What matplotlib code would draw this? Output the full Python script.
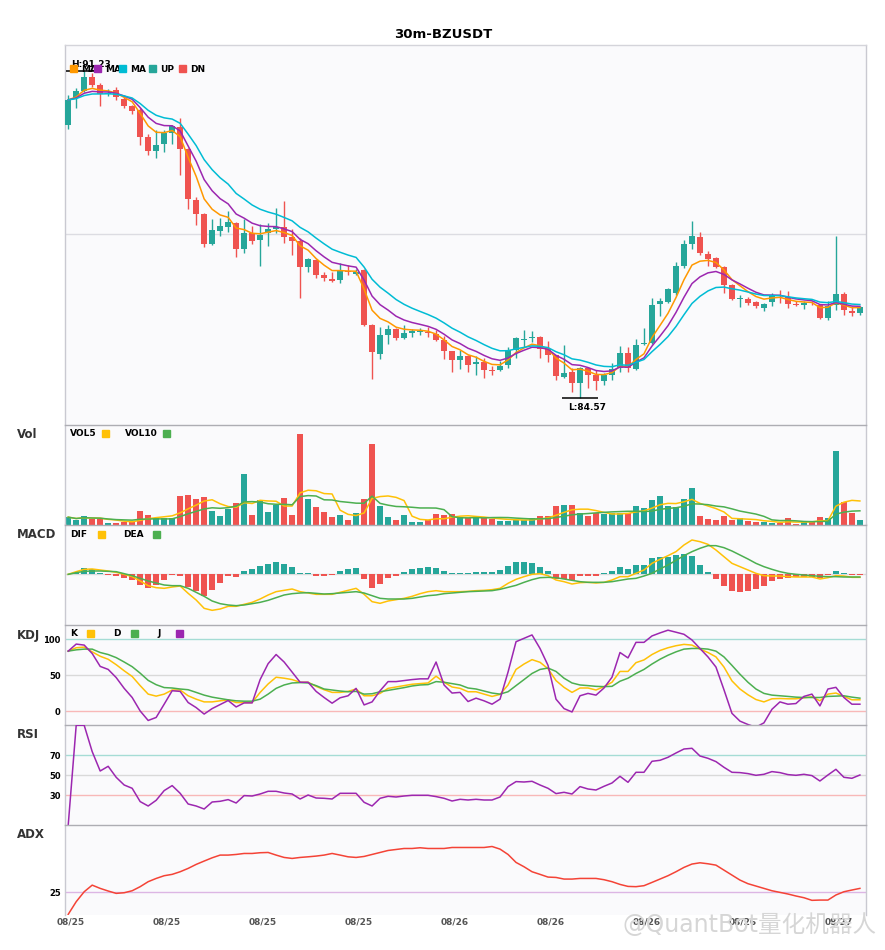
import numpy as np
import pandas as pd
import matplotlib
matplotlib.use("Agg")
import matplotlib.pyplot as plt
from matplotlib.patches import Rectangle

plt.rcParams['font.family'] = ['DejaVu Sans', 'Noto Sans CJK SC']
plt.rcParams['font.weight'] = 'bold'

# chart data
title = "30m-BZUSDT"
date_labels = ["08/25", "08/25", "08/25", "08/25", "08/26", "08/26", "08/26", "08/26", "08/27"]

opens = [90.13, 90.67, 90.83, 91.11, 90.94, 90.77, 90.84, 90.66, 90.52, 90.43,
         89.88, 89.60, 89.74, 89.96, 90.08, 89.64, 88.60, 88.31, 87.70, 87.97,
         88.05, 88.13, 87.59, 87.92, 87.79, 87.92, 88.01, 88.05, 87.85, 87.76,
         87.24, 87.38, 87.06, 86.99, 86.96, 87.15, 87.09, 87.17, 86.05, 85.46,
         85.85, 85.97, 85.78, 85.88, 85.90, 85.90, 85.86, 85.75, 85.51, 85.34,
         85.41, 85.25, 85.30, 85.14, 85.14, 85.24, 85.54, 85.74, 85.78, 85.81,
         85.56, 85.43, 84.99, 85.10, 84.86, 85.17, 85.02, 84.91, 85.03, 85.17,
         85.47, 85.16, 85.67, 85.69, 86.47, 86.52, 86.70, 87.25, 87.70, 87.85,
         87.50, 87.41, 87.24, 86.87, 86.57, 86.58, 86.51, 86.39, 86.51, 86.66,
         86.63, 86.48, 86.45, 86.50, 86.46, 86.19, 86.46, 86.68, 86.34, 86.30]
highs = [90.74, 90.88, 91.23, 91.19, 90.98, 90.86, 90.91, 90.71, 90.54, 90.47,
         89.94, 90.03, 90.03, 90.13, 90.28, 89.65, 88.65, 88.33, 88.21, 88.23,
         88.38, 88.15, 88.21, 88.07, 88.10, 88.12, 88.43, 88.57, 88.01, 87.82,
         87.42, 87.39, 87.13, 87.14, 87.31, 87.28, 87.19, 87.19, 86.07, 86.00,
         86.05, 85.98, 86.05, 85.97, 85.98, 86.00, 85.95, 85.83, 85.52, 85.54,
         85.43, 85.41, 85.37, 85.22, 85.32, 85.61, 85.81, 85.95, 85.93, 85.82,
         85.73, 85.44, 85.65, 85.18, 85.20, 85.20, 85.14, 85.07, 85.27, 85.62,
         85.61, 85.77, 85.98, 86.60, 86.60, 86.80, 87.33, 87.78, 88.17, 87.94,
         87.55, 87.44, 87.26, 86.88, 86.66, 86.63, 86.53, 86.49, 86.70, 86.77,
         86.75, 86.53, 86.54, 86.54, 86.47, 86.54, 87.87, 86.72, 86.43, 86.43]
lows = [90.05, 90.48, 90.81, 90.90, 90.52, 90.71, 90.64, 90.48, 90.35, 89.72,
        89.52, 89.46, 89.57, 89.74, 89.11, 88.42, 88.09, 87.63, 87.68, 87.87,
        87.95, 87.44, 87.51, 87.70, 87.26, 87.67, 87.92, 87.72, 87.48, 86.61,
        87.14, 87.00, 86.94, 86.92, 86.91, 87.07, 87.06, 86.03, 84.94, 85.36,
        85.67, 85.75, 85.77, 85.81, 85.85, 85.81, 85.73, 85.35, 85.10, 85.16,
        85.10, 85.02, 84.97, 85.02, 85.12, 85.18, 85.37, 85.61, 85.70, 85.37,
        85.30, 84.93, 84.97, 84.68, 84.57, 84.76, 84.73, 84.83, 84.93, 85.09,
        85.10, 85.14, 85.65, 85.66, 86.24, 86.49, 86.66, 87.21, 87.60, 87.47,
        87.26, 87.21, 86.70, 86.56, 86.41, 86.46, 86.39, 86.34, 86.43, 86.49,
        86.39, 86.43, 86.38, 86.46, 86.17, 86.15, 86.36, 86.26, 86.24, 86.26]
closes = [90.64, 90.82, 91.11, 90.95, 90.77, 90.79, 90.69, 90.52, 90.42, 89.89,
          89.60, 89.72, 89.96, 90.10, 89.64, 88.62, 88.31, 87.70, 87.99, 88.06,
          88.15, 87.59, 87.93, 87.77, 87.89, 88.01, 88.04, 87.85, 87.76, 87.24,
          87.40, 87.06, 87.00, 86.94, 87.16, 87.13, 87.14, 86.05, 85.49, 85.85,
          85.97, 85.79, 85.88, 85.92, 85.93, 85.88, 85.75, 85.51, 85.34, 85.41,
          85.24, 85.29, 85.14, 85.12, 85.22, 85.54, 85.79, 85.77, 85.81, 85.56,
          85.43, 85.00, 85.07, 84.86, 85.18, 85.02, 84.91, 85.03, 85.16, 85.47,
          85.17, 85.65, 85.69, 86.46, 86.53, 86.78, 87.25, 87.70, 87.87, 87.51,
          87.40, 87.24, 86.87, 86.58, 86.60, 86.49, 86.43, 86.47, 86.65, 86.64,
          86.48, 86.46, 86.49, 86.49, 86.19, 86.43, 86.68, 86.36, 86.30, 86.41]
volume = [22, 14, 25, 17, 17, 4, 4, 8, 7, 40,
          28, 20, 21, 21, 85, 88, 76, 82, 40, 25,
          47, 64, 151, 28, 73, 37, 60, 79, 28, 271,
          76, 52, 37, 22, 28, 13, 34, 76, 241, 55,
          22, 13, 28, 7, 7, 13, 31, 28, 31, 22,
          19, 21, 19, 17, 10, 10, 15, 15, 19, 25,
          25, 55, 58, 58, 34, 25, 34, 31, 34, 34,
          34, 55, 49, 73, 85, 55, 52, 76, 109, 25,
          16, 13, 25, 13, 19, 10, 7, 7, 4, 4,
          19, 2, 7, 7, 22, 19, 220, 67, 34, 13]

dif = [0, 0.032, 0.06, 0.064, 0.052, 0.04, 0.024, 0, -0.028, -0.08,
       -0.136, -0.16, -0.168, -0.152, -0.14, -0.228, -0.308, -0.408, -0.432, -0.416,
       -0.384, -0.384, -0.36, -0.336, -0.296, -0.248, -0.208, -0.192, -0.176, -0.208,
       -0.224, -0.24, -0.24, -0.24, -0.216, -0.192, -0.168, -0.24, -0.328, -0.348,
       -0.32, -0.304, -0.288, -0.264, -0.232, -0.208, -0.196, -0.208, -0.208, -0.208,
       -0.204, -0.196, -0.192, -0.184, -0.168, -0.108, -0.06, -0.028, 0, 0.008,
       -0.016, -0.068, -0.088, -0.116, -0.1, -0.096, -0.104, -0.096, -0.068, -0.028,
       -0.028, 0.012, 0.052, 0.132, 0.18, 0.224, 0.272, 0.352, 0.412, 0.392,
       0.36, 0.292, 0.212, 0.132, 0.092, 0.052, 0.012, -0.016, -0.02, -0.02,
       -0.028, -0.032, -0.032, -0.032, -0.056, -0.04, -0.016, -0.02, -0.036, -0.036]
dea = [0, 0.02, 0.036, 0.04, 0.04, 0.036, 0.032, 0.008, -0.016, -0.048,
       -0.08, -0.104, -0.128, -0.136, -0.136, -0.168, -0.216, -0.264, -0.32, -0.352,
       -0.368, -0.376, -0.368, -0.352, -0.336, -0.312, -0.28, -0.248, -0.232, -0.224,
       -0.22, -0.228, -0.236, -0.232, -0.224, -0.216, -0.208, -0.224, -0.256, -0.288,
       -0.296, -0.296, -0.296, -0.288, -0.272, -0.256, -0.248, -0.232, -0.224, -0.216,
       -0.208, -0.204, -0.2, -0.196, -0.18, -0.156, -0.132, -0.096, -0.064, -0.04,
       -0.036, -0.04, -0.056, -0.072, -0.088, -0.096, -0.096, -0.096, -0.088, -0.072,
       -0.056, -0.048, -0.02, 0.012, 0.064, 0.112, 0.168, 0.224, 0.272, 0.312,
       0.344, 0.344, 0.32, 0.28, 0.232, 0.184, 0.132, 0.092, 0.06, 0.032,
       0.012, 0, -0.008, -0.016, -0.024, -0.028, -0.028, -0.032, -0.032, -0.032]
macd_hist = [0, 0.028, 0.08, 0.06, 0.012, -0.004, -0.016, -0.04, -0.068, -0.128,
             -0.16, -0.128, -0.068, -0.008, -0.02, -0.148, -0.2, -0.26, -0.188, -0.1,
             -0.02, -0.028, 0.04, 0.064, 0.1, 0.124, 0.148, 0.124, 0.088, 0.012,
             0.012, -0.02, -0.02, -0.008, 0.04, 0.064, 0.076, -0.056, -0.16, -0.116,
             -0.04, -0.02, 0.028, 0.064, 0.076, 0.088, 0.076, 0.04, 0.012, 0.012,
             0.012, 0.028, 0.028, 0.028, 0.052, 0.1, 0.148, 0.148, 0.136, 0.088,
             0.04, -0.056, -0.056, -0.068, -0.02, -0.02, -0.02, 0.012, 0.04, 0.088,
             0.064, 0.112, 0.112, 0.196, 0.208, 0.208, 0.232, 0.244, 0.22, 0.112,
             0.028, -0.056, -0.14, -0.2, -0.212, -0.2, -0.176, -0.14, -0.08, -0.056,
             -0.04, -0.032, -0.032, -0.028, -0.04, -0.008, 0.04, 0.016, -0.008, -0.004]

k_line = [83.6, 88.3, 89.2, 82.6, 76.5, 72.3, 64.8, 56.3, 48.4, 35.7,
          23.9, 21.1, 23.9, 29.6, 29.6, 21.6, 16.9, 13.1, 13.1, 14.6,
          16.0, 12.2, 12.2, 12.2, 26.3, 38.0, 47.4, 46.0, 44.1, 40.4,
          40.4, 34.7, 30.0, 26.3, 26.3, 27.7, 31.0, 21.6, 21.6, 24.9,
          31.9, 33.8, 35.7, 37.6, 38.5, 39.4, 48.8, 40.4, 33.8, 31.9,
          27.2, 27.2, 23.9, 20.7, 23.5, 36.6, 58.2, 65.7, 71.8, 68.1,
          59.2, 42.7, 33.3, 26.3, 32.4, 32.4, 29.6, 34.3, 40.4, 55.4,
          55.4, 67.6, 71.4, 78.9, 84.5, 88.3, 91.1, 93.0, 92.0, 86.4,
          81.7, 75.6, 61.5, 42.3, 31.0, 23.0, 16.4, 13.1, 17.4, 17.8,
          17.4, 17.4, 18.8, 20.2, 14.6, 23.9, 25.4, 20.7, 16.0, 16.0]
d_line = [83.6, 85.4, 86.4, 86.4, 81.7, 78.9, 74.6, 68.5, 62.0, 53.0,
          43.0, 37.0, 33.0, 32.4, 31.0, 30.0, 26.3, 22.5, 19.7, 17.8,
          16.0, 14.6, 14.1, 14.1, 16.9, 23.9, 31.9, 36.6, 39.4, 39.9,
          39.4, 35.7, 31.0, 29.6, 28.2, 27.2, 27.7, 23.9, 24.4, 27.2,
          29.1, 31.0, 32.9, 35.2, 36.6, 37.1, 41.3, 40.4, 38.5, 36.6,
          32.4, 31.0, 28.2, 25.4, 23.9, 27.2, 35.7, 44.1, 52.6, 58.2,
          60.1, 55.4, 46.0, 39.4, 36.6, 35.7, 34.7, 34.3, 34.7, 41.8,
          46.0, 52.6, 58.2, 65.7, 72.3, 77.9, 82.6, 86.4, 87.3, 87.3,
          86.4, 83.6, 75.6, 63.8, 51.6, 40.4, 31.0, 24.9, 22.5, 21.6,
          20.7, 19.7, 19.2, 19.2, 19.2, 20.7, 21.1, 21.6, 19.7, 18.3]
j_line = [83.6, 93.4, 92.0, 80.3, 62.4, 58.2, 46.9, 31.9, 19.2, 0.5,
          -12.7, -8.5, 9.9, 28.6, 27.7, 12.2, 5.2, -3.8, 3.8, 9.4,
          15.0, 6.1, 11.7, 11.7, 44.1, 66.2, 78.9, 68.5, 54.5, 40.4,
          40.4, 27.7, 19.2, 11.3, 18.8, 21.6, 31.9, 8.9, 13.1, 28.6,
          41.3, 41.3, 42.7, 44.1, 45.1, 45.1, 68.5, 36.6, 25.4, 26.3,
          13.6, 18.3, 14.6, 9.9, 16.9, 54.5, 96.7, 101.4, 106.1, 87.3,
          63.8, 16.9, 3.8, -0.9, 21.6, 24.9, 22.5, 32.4, 47.4, 81.7,
          74.2, 95.8, 95.8, 104.7, 108.9, 112.7, 109.9, 107.0, 99.1, 87.3,
          75.6, 61.5, 30.0, -2.8, -13.6, -18.3, -22.0, -16.0, 2.8, 13.1,
          9.9, 10.8, 20.7, 23.9, 7.5, 31.0, 33.3, 19.2, 9.9, 9.9]
rsi = [0, 100, 100, 73.7, 54.3, 59.0, 48.0, 40.3, 37.0, 23.7,
       19.3, 25.0, 34.7, 39.7, 32.0, 21.3, 19.3, 16.3, 23.3, 24.0,
       25.7, 22.3, 29.7, 29.3, 31.3, 34.0, 34.0, 32.3, 31.3, 26.3,
       30.3, 27.3, 27.0, 26.3, 32.0, 32.0, 32.0, 23.0, 19.3, 27.0,
       29.0, 28.3, 29.3, 30.0, 30.0, 30.0, 28.7, 27.0, 24.3, 26.0,
       25.3, 26.0, 25.3, 25.3, 28.3, 38.7, 43.7, 43.3, 44.0, 40.3,
       37.0, 31.7, 33.0, 31.3, 38.7, 36.3, 35.3, 39.0, 42.3, 49.0,
       43.0, 53.0, 53.0, 64.0, 65.0, 68.0, 72.3, 76.3, 77.0, 69.3,
       67.0, 63.7, 58.0, 53.0, 52.7, 51.7, 50.0, 51.0, 53.7, 52.7,
       50.7, 50.0, 51.0, 49.7, 44.3, 50.3, 56.0, 48.0, 47.0, 50.3]
adx = [0.7, 14.7, 25.7, 33.0, 29.4, 26.5, 23.9, 24.6, 26.8, 31.3,
       36.8, 40.4, 43.4, 44.9, 47.8, 51.5, 55.9, 59.6, 63.2, 66.2,
       66.2, 66.9, 68.0, 68.0, 68.8, 69.1, 66.2, 63.6, 62.5, 63.6,
       64.3, 65.1, 66.2, 68.0, 66.2, 64.3, 63.6, 64.7, 66.9, 69.1,
       71.3, 72.4, 73.5, 73.5, 74.3, 73.5, 73.5, 73.5, 74.6, 74.6,
       74.6, 74.6, 74.6, 75.7, 72.8, 66.9, 58.1, 53.3, 47.8, 44.9,
       41.9, 41.5, 39.7, 39.7, 40.4, 40.4, 40.4, 39.0, 36.8, 33.8,
       31.6, 31.3, 32.4, 36.0, 39.7, 43.4, 47.8, 52.6, 56.3, 57.7,
       56.6, 55.1, 49.6, 44.1, 38.6, 34.6, 32.0, 29.4, 26.8, 25.0,
       23.2, 21.0, 19.1, 16.2, 16.5, 16.5, 22.1, 25.7, 27.6, 29.4]

df = pd.DataFrame({"open": opens, "high": highs, "low": lows, "close": closes, "vol": volume})
# the three price averages on this chart are exponential (5 / 8 / 13)
df["ma_fast"] = df["close"].ewm(span=5, adjust=False).mean()
df["ma_mid"] = df["close"].ewm(span=8, adjust=False).mean()
df["ma_slow"] = df["close"].ewm(span=13, adjust=False).mean()
df["vol5"] = df["vol"].rolling(5, min_periods=1).mean()
df["vol10"] = df["vol"].rolling(10, min_periods=1).mean()
x = np.arange(len(df))

UP, DN = "#26a69a", "#ef5350"
YEL, GRN, PUR = "#ffc107", "#4caf50", "#9c27b0"
colors = np.where(df["close"] >= df["open"], UP, DN)

W, H = 885, 950
fig = plt.figure(figsize=(W / 100, H / 100), dpi=100)
LEFT, RIGHT = 65, 865.5


def panel(top, bottom, top_color="#adadb3"):
    ax = fig.add_axes([LEFT / W, 1 - bottom / H, (RIGHT - LEFT) / W, (bottom - top) / H])
    ax.set_facecolor("#fafafc")
    ax.set_xlim(-0.4, 99.7)
    ax.set_xticks([])
    ax.set_yticks([])
    for s in ax.spines.values():
        s.set_color("#c9c9d1")
        s.set_linewidth(1)
    ax.spines["top"].set_color(top_color)
    ax.spines["bottom"].set_visible(False)
    ax.tick_params(axis="y", length=0, pad=3, labelsize=6, labelcolor="black")
    return ax


def ftext(px, py, s, **kw):
    fig.text(px / W, 1 - py / H, s, va="center", **kw)


def fsq(px, py, color):
    fig.add_artist(Rectangle((px / W, 1 - (py + 3.5) / H), 7 / W, 7 / H,
                             transform=fig.transFigure, color=color, zorder=5))


# price panel
ax1 = panel(45, 424.5, top_color="#d4d4da")
ax1.set_ylim(84.02, 91.76)
ax1.axhline(87.9, color="#dcdce2", lw=1, zorder=0)
ax1.vlines(x, df["low"], df["high"], color=colors, lw=1, zorder=2)
body = np.maximum((df["close"] - df["open"]).abs(), 0.015)
ax1.bar(x, body, bottom=np.minimum(df["open"], df["close"]), width=0.75, color=colors, zorder=3)
ax1.plot(x, df["ma_fast"], color="#ff9800", lw=1.1, zorder=4)
ax1.plot(x, df["ma_mid"], color=PUR, lw=1.1, zorder=4)
ax1.plot(x, df["ma_slow"], color="#00bcd4", lw=1.1, zorder=4)

hi = int(np.argmax(highs))
lo = int(np.argmin(lows))
ax1.hlines(highs[hi], hi - 2.25, hi + 2.25, color="black", lw=1.1, zorder=5)
ax1.annotate("H:%.2f" % highs[hi], (hi + 0.85, highs[hi]), xytext=(0, 5), textcoords="offset points",
             ha="center", va="center", fontsize=6.5, zorder=6)
ax1.hlines(lows[lo], lo - 2.25, lo + 2.25, color="black", lw=1.1, zorder=5)
ax1.annotate("L:%.2f" % lows[lo], (lo + 0.85, lows[lo]), xytext=(0, -7), textcoords="offset points",
             ha="center", va="center", fontsize=6.5, zorder=6)

for sx, lab, c in [(70, "MA", "#ff9800"), (94, "MA", PUR), (119, "MA", "#00bcd4"), (149, "UP", UP), (179, "DN", DN)]:
    fsq(sx, 68.5, c)
    ftext(sx + 11, 69, lab, fontsize=6.5)

# volume
ax2 = panel(424.5, 524.5)
ax2.set_ylim(0, 300)
ax2.bar(x, df["vol"], width=0.72, color=colors, zorder=2)
ax2.plot(x, df["vol5"], color=YEL, lw=1.1, zorder=3)
ax2.plot(x, df["vol10"], color=GRN, lw=1.1, zorder=3)
ftext(70, 434, "VOL5", fontsize=6.5)
fsq(101.5, 433, YEL)
ftext(125, 434, "VOL10", fontsize=6.5)
fsq(163, 433, GRN)

# MACD
ax3 = panel(524.5, 624.5)
ax3.set_ylim(-0.602, 0.598)
ax3.axhline(0, color="#dcdcdc", lw=1, zorder=0)
hist_colors = [UP if v >= 0 else DN for v in macd_hist]
ax3.bar(x, macd_hist, width=0.72, color=hist_colors, zorder=2)
ax3.plot(x, dif, color=YEL, lw=1.1, zorder=3)
ax3.plot(x, dea, color=GRN, lw=1.1, zorder=3)
ftext(70, 534.5, "DIF", fontsize=6.5)
fsq(97.5, 534, YEL)
ftext(123, 534.5, "DEA", fontsize=6.5)
fsq(153, 534, GRN)

# KDJ
ax4 = panel(624.5, 724.5)
ax4.set_ylim(-18.3, 120.6)
ax4.axhline(100, color="#a5dcd5", lw=1, zorder=0)
ax4.axhline(50, color="#d9d9d9", lw=1, zorder=0)
ax4.axhline(0, color="#f8b8b8", lw=1, zorder=0)
ax4.plot(x, k_line, color=YEL, lw=1.1, zorder=3)
ax4.plot(x, d_line, color=GRN, lw=1.1, zorder=3)
ax4.plot(x, j_line, color=PUR, lw=1.1, zorder=3)
ax4.set_yticks([0, 50, 100])
ftext(70, 634, "K", fontsize=6.5)
fsq(87, 633, YEL)
ftext(113, 634, "D", fontsize=6.5)
fsq(131, 633, GRN)
ftext(157, 634, "J", fontsize=6.5)
fsq(175.5, 633, PUR)

# RSI
ax5 = panel(724.5, 824.5)
ax5.set_ylim(0.8, 100.8)
ax5.axhline(70, color="#a5dcd5", lw=1, zorder=0)
ax5.axhline(50, color="#d9d9d9", lw=1, zorder=0)
ax5.axhline(30, color="#f8b8b8", lw=1, zorder=0)
ax5.plot(x, rsi, color=PUR, lw=1.1, zorder=3)
ax5.set_yticks([30, 50, 70])

# ADX
ax6 = panel(824.5, 915)
ax6.set_ylim(0, 100)
ax6.axhline(25, color="#dcb6e4", lw=1, zorder=0)
ax6.plot(x, adx, color="#f44336", lw=1.1, zorder=3)
ax6.set_yticks([25])
ax6.set_xticks(x[::12] + 0.35)
ax6.set_xticklabels(date_labels)
ax6.tick_params(axis="x", length=0, pad=2, labelsize=6.5, labelcolor="#555555")

# titles and panel names
ftext(443, 34, title, ha="center", fontsize=9.5)
for py, name in [(435, "Vol"), (535, "MACD"), (635, "KDJ"), (735, "RSI"), (835, "ADX")]:
    ftext(17, py, name, fontsize=8.5, color="#333333")

# site watermark
ftext(877, 925, "@QuantBot量化机器人", ha="right", fontsize=17, color="#d6d6d6",
      weight="normal", family=["DejaVu Sans", "Noto Sans CJK SC"], zorder=10)

fig.savefig("out.png", dpi=100, facecolor="white")
